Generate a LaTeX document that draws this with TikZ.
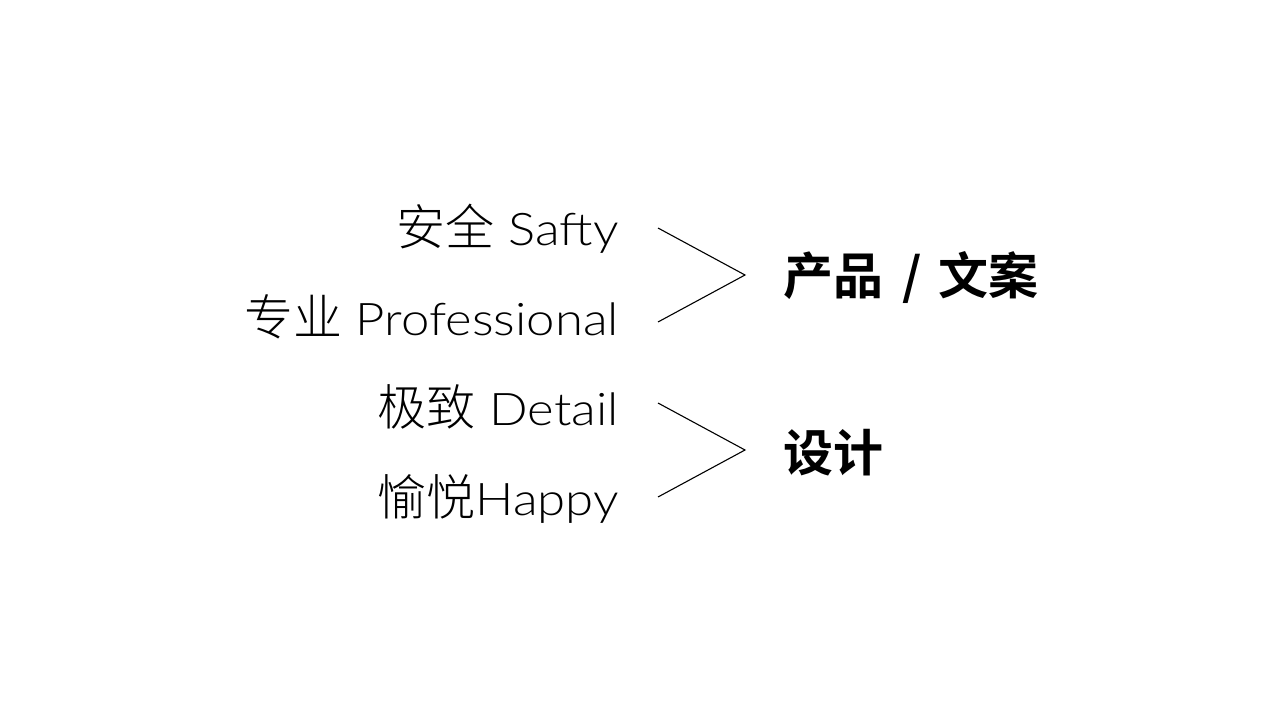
\documentclass[tikz,border=0pt]{standalone}
\usepackage{fontspec}
\IfFontExistsTF{Noto Sans CJK SC Light}
  {\newfontfamily\cjklight{Noto Sans CJK SC Light}}
  {\newfontfamily\cjklight{Noto Sans CJK SC}}
\IfFontExistsTF{Lato Light}
  {\newfontfamily\latlight[FakeStretch=1.13]{Lato Light}}
  {\newfontfamily\latlight{Liberation Sans}}
\newfontfamily\cjkbold{Noto Sans CJK SC Bold}
\newcommand{\lefttxt}[2]{{\cjklight\fontsize{49}{52}\selectfont #1}{\latlight #2}}
\tikzset{
  lefttext/.style={anchor=base east, inner sep=0pt, font=\fontsize{45}{50}\selectfont},
  righttext/.style={anchor=west, inner sep=0pt, font=\cjkbold\fontsize{50}{54}\selectfont},
  chev/.style={draw=black, line width=1.1pt, line join=miter}
}
\begin{document}
\begin{tikzpicture}[x=1pt,y=-1pt]
\useasboundingbox[fill=white] (0,0) rectangle (1280,720);
\node[lefttext] (a) at (619,245) {\lefttxt{安全}{ Safty}};
\node[lefttext] (b) at (619,335) {\lefttxt{专业}{ Professional}};
\node[lefttext] (c) at (619,425) {\lefttxt{极致}{ Detail}};
\node[lefttext] (d) at (619,515) {\lefttxt{愉悦}{Happy}};
\node[righttext] (p) at (783,278) {产品\hspace{19pt}/\hspace{17pt}文案};
\node[righttext] (s) at (783,453) {设计};
\coordinate (t1) at (658,228);
\coordinate (m1) at (745,275);
\coordinate (b1) at (658,322);
\coordinate (t2) at (658,403);
\coordinate (m2) at (745,450);
\coordinate (b2) at (658,497);
\draw[chev] (t1) -- (m1) -- (b1);
\draw[chev] (t2) -- (m2) -- (b2);
\end{tikzpicture}
\end{document}
